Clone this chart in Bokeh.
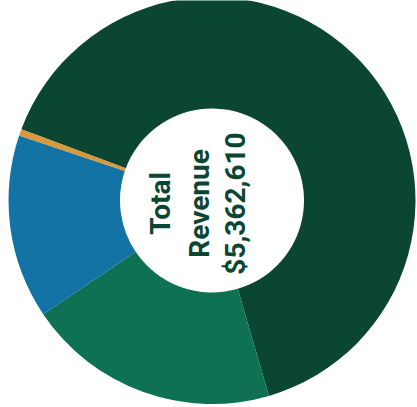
import math
from bokeh.plotting import figure
from bokeh.models import Range1d, ColumnDataSource
from bokeh.embed import file_html
from bokeh.resources import INLINE
from bokeh.core.properties import value

# Data
categories = ["Category A", "Category B", "Category C", "Category D"]
revenue = [3474610, 1077000, 783000, 28000]
colors = ["#0A4631", "#0E7153", "#1473A5", "#D9983B"]
center_lines = ["Total", "Revenue", "$5,362,610"]

W, H = 417, 407
p = figure(width=W, height=H, output_backend="svg", toolbar_location=None,
           x_range=Range1d(0, W), y_range=Range1d(0, H),
           x_axis_type=None, y_axis_type=None, min_border=0)
p.outline_line_color = None
p.grid.visible = False
p.background_fill_color = "white"
p.border_fill_color = "white"

def py(page_y):
    return H - page_y

cx, cy = 211.5, py(200)
r_out, r_in = 203.5, 92

total = sum(revenue)
offset = 290.5  # degrees clockwise from 12 o'clock where the first slice starts
starts, ends = [], []
acc = offset
for v in revenue:
    a0 = acc
    a1 = acc + v / total * 360.0
    starts.append(math.radians(90 - a0))
    ends.append(math.radians(90 - a1))
    acc = a1

src = ColumnDataSource(dict(cat=categories, val=revenue, start=starts, end=ends, color=colors))
p.annular_wedge(x=cx, y=cy, inner_radius=r_in, outer_radius=r_out,
                start_angle="start", end_angle="end", direction="clock",
                fill_color="color", line_color=None, source=src)

xs = [160, 198.5, 235]
ys = [py(203)] * 3
p.text(x=xs, y=ys, text=center_lines, angle=math.pi / 2,
       text_align="center", text_baseline="alphabetic",
       text_font=value("Roboto"), text_font_style="bold",
       text_font_size="28px", text_color="#0A4631")

open("out.html", "w").write(file_html(p, INLINE))
